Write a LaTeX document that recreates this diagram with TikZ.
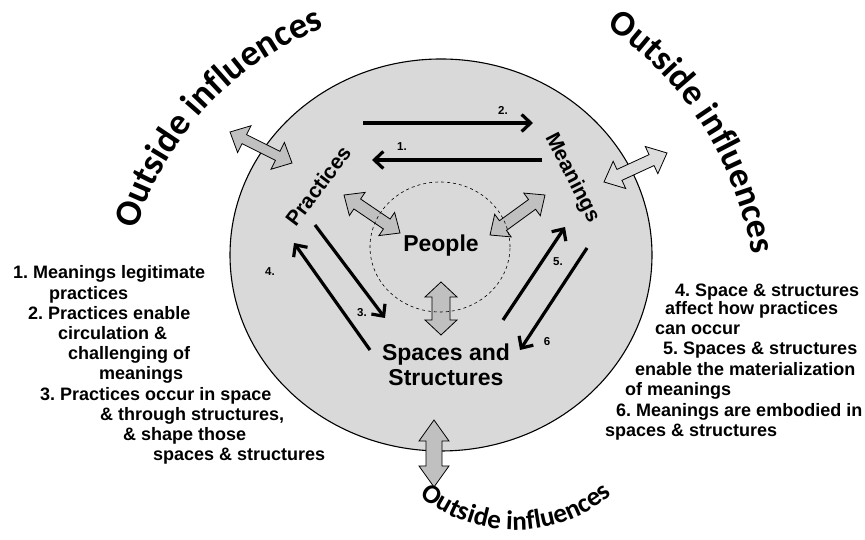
\documentclass[tikz,border=0pt]{standalone}
\usepackage{fontspec}
\setmainfont{Liberation Sans}
\newfontfamily\oifont{Carlito}
\usetikzlibrary{arrows.meta,calc,decorations.text}
\definecolor{disc}{HTML}{D9D9D9}
\definecolor{fat}{HTML}{C0C0C0}
\definecolor{fatl}{HTML}{DCDCDC}
\frenchspacing
\tikzset{
  >={Straight Barb[length=9pt,width=17pt]},
  arr/.style={->,line width=3.2pt},
  garr/.style={draw,fill=fat,line width=0.8pt,line join=miter},
  larr/.style={garr,fill=fatl},
  lbl/.style={font=\bfseries\fontsize{23}{25}\selectfont,align=center,inner sep=0pt},
  side/.style={font=\bfseries\fontsize{21}{23}\selectfont,inner sep=0pt},
  tag/.style={font=\bfseries\fontsize{11.5}{13}\selectfont,inner sep=0pt},
  note/.style={font=\bfseries\fontsize{18}{20}\selectfont,anchor=base west,inner sep=0pt},
  outside/.style={decorate,decoration={text along path,text align=center,
    text={|\oifont\bfseries\fontsize{#1}{#1}\selectfont|Outside influences}}},
}
% two-headed block arrow: [style]{tip a}{tip b}{shaft half}{head half}{head length}
\newcommand{\twoway}[6][garr]{%
  \draw[#1] (#2)
    -- ($(#2)!#6!(#3)!#5!90:(#3)$) -- ($(#2)!#6!(#3)!#4!90:(#3)$)
    -- ($(#3)!#6!(#2)!#4!-90:(#2)$) -- ($(#3)!#6!(#2)!#5!-90:(#2)$)
    -- (#3)
    -- ($(#3)!#6!(#2)!#5!90:(#2)$) -- ($(#3)!#6!(#2)!#4!90:(#2)$)
    -- ($(#2)!#6!(#3)!#4!-90:(#3)$) -- ($(#2)!#6!(#3)!#5!-90:(#3)$)
    -- cycle;}

\begin{document}
\begin{tikzpicture}[x=1pt,y=1pt]
\useasboundingbox (0,0) rectangle (865,540);
\draw[fill=disc,line width=1.1pt] (441,285) ellipse[x radius=211,y radius=196];

% block arrows
\coordinate (oTLa) at (230,408); \coordinate (oTLb) at (292,377);
\coordinate (oTRa) at (604,358); \coordinate (oTRb) at (667,387);
\coordinate (pPa) at (344,345);  \coordinate (pPb) at (400,307);
\coordinate (mPa) at (545,345);  \coordinate (mPb) at (490,305);
\coordinate (sPa) at (441,258);  \coordinate (sPb) at (441,205);
\coordinate (oBa) at (434,120);  \coordinate (oBb) at (434,53);
\twoway{oTLa}{oTLb}{5pt}{15pt}{16pt}
\twoway[larr]{oTRa}{oTRb}{6pt}{15pt}{17pt}
\twoway{pPa}{pPb}{6pt}{14pt}{16pt}
\twoway{mPa}{mPb}{6pt}{14pt}{16pt}
\twoway{sPa}{sPb}{9pt}{16pt}{15pt}
\twoway{oBa}{oBb}{8pt}{15pt}{21pt}

\draw[dashed,line width=0.6pt] (440,293) ellipse[x radius=70,y radius=65];

\node[lbl,anchor=base] (people) at (441,288) {People};
\node[lbl] (spaces) at (446,175) {Spaces and\\Structures};
\node[side,rotate=53] (practices) at (318,354) {Practices};
\node[side,rotate=-63] (meanings) at (572,362) {Meanings};

% numbered relations
\foreach \i/\x/\y/\u/\v in {1/542/380/372/380, 2/363/417/533/417, 3/315/315/385/222,
                            4/370/190/294/297, 5/503/220/565/313, 6/587/292/520/190}{
  \coordinate (s\i) at (\x,\y); \coordinate (e\i) at (\u,\v);
  \draw[arr] (s\i) -- (e\i);}
\foreach \n/\x/\y in {1/402/393, 2/503/430, 3/362/227, 4/270/268, 5/558/278}
  \node[tag] (t\n) at (\x,\y) {\n.};
\node[tag] (t6) at (547,198) {6};

\foreach \i/\x/\y/\t in {1/13/261/{1. Meanings legitimate}, 2/49/240.7/{practices},
    3/28/220.5/{2. Practices enable}, 4/58/200.3/{circulation \&}, 5/68/180/{challenging of},
    6/99/160/{meanings}, 7/40/139.5/{3. Practices occur in space},
    8/100/119.3/{\& through structures,}, 9/123/99/{\& shape those}, 10/153/79/{spaces \& structures}}
  \node[note] (l\i) at (\x,\y) {\t};
\foreach \i/\x/\y/\t in {1/675/243/{4. Space \& structures}, 2/665/225/{affect how practices},
    3/655/205/{can occur}, 4/663/185/{5. Spaces \& structures},
    5/635/164/{enable the materialization}, 6/625/144/{of meanings},
    7/616/123/{6. Meanings are embodied in}, 8/605/103/{spaces \& structures}}
  \node[note] (r\i) at (\x,\y) {\t};

\path[outside=37] ([shift={(172:318)}]440,216) arc[start angle=172,end angle=102,radius=318];
\path[outside=36] ([shift={(70:341)}]415,231) arc[start angle=70,end angle=-5,radius=341];
\path[outside=27] ([shift={(225:150)}]515,160) arc[start angle=225,end angle=316,radius=150];
\end{tikzpicture}
\end{document}
